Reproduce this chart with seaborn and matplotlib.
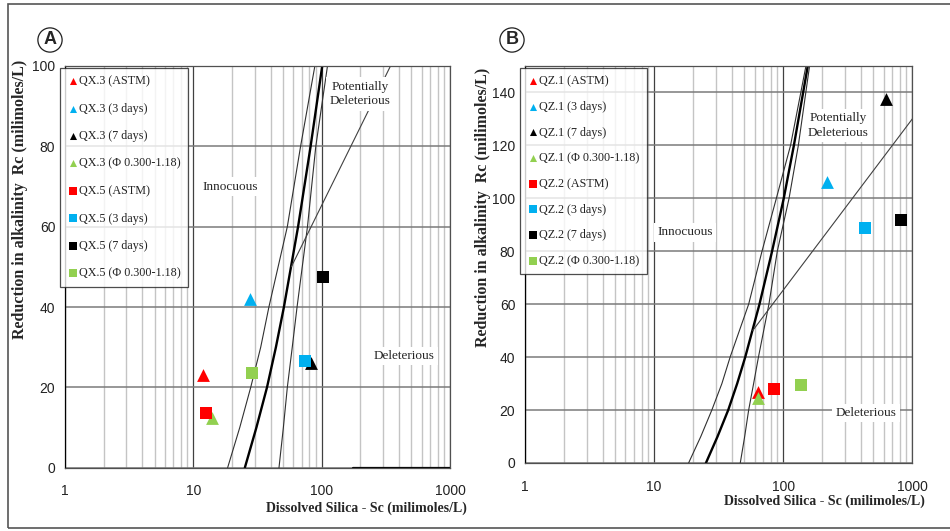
import numpy as np
import pandas as pd
import matplotlib
matplotlib.use("Agg")
import matplotlib.pyplot as plt
from matplotlib.ticker import LogLocator, FixedLocator, NullFormatter, FixedFormatter
from matplotlib.patches import Rectangle
import seaborn as sns

# series names and colours (ASTM, 3 days, 7 days, sieve fraction)
tests = ["(ASTM)", "(3 days)", "(7 days)", "(\u03a6 0.300-1.18)"]
colors = ["#FF0000", "#00B0F0", "#000000", "#92D050"]

# panel A: QX.3 (triangles) and QX.5 (squares)
qx3_sc = [11.8, 27.7, 82, 14.1]
qx3_rc = [23, 42, 26, 12.3]
qx5_sc = [12.6, 74.6, 102, 28.8]
qx5_rc = [13.7, 26.6, 47.4, 23.5]

# panel B: QZ.1 (triangles) and QZ.2 (squares)
qz1_sc = [64, 220, 626, 64]
qz1_rc = [27, 106.2, 137.6, 24.6]
qz2_sc = [85, 430, 818, 137]
qz2_rc = [28, 88.8, 91.7, 29.4]

# boundary curves
curve_rc = [0, 10, 20, 30, 40, 60, 80, 100, 120, 150]
thick_sc = [25.2, 31, 37.5, 44, 50.8, 65.5, 82, 101, 121, 155]
thin_left_sc = [18.5, 23, 28, 33.5, 38.8, 54, 68.5, 88.5, 114, 150]
thin_right_sc = [46.5, 50.3, 54, 59, 64.3, 77.5, 90, 111, 131, 160]
diag_sc = [58, 1000]
diag_rc = [50, 130]
base_sc = [177, 1000]
base_rc = [0, 0]

x_ticks = [1, 10, 100, 1000]
x_labels = ["1", "10", "100", "1000"]

sns.set_style("white")
plt.rcParams["font.family"] = ["Liberation Serif", "DejaVu Serif"]

fig = plt.figure(figsize=(9.5, 5.31), dpi=100)
axA = fig.add_axes([65 / 950, 1 - 467.7 / 531, 385 / 950, 401.7 / 531])
axB = fig.add_axes([525 / 950, 1 - 463 / 531, 387.3 / 950, 397 / 531])


def draw_panel(ax, name_a, name_b, sc_a, rc_a, sc_b, rc_b, ymax, yticks, base=False):
    ax.set_xscale("log")
    ax.set_xlim(1, 1000)
    ax.set_ylim(0, ymax)

    # grid
    ax.xaxis.set_minor_locator(LogLocator(base=10, subs=np.arange(2, 10)))
    ax.xaxis.set_minor_formatter(NullFormatter())
    ax.xaxis.set_major_locator(FixedLocator(x_ticks))
    ax.xaxis.set_major_formatter(FixedFormatter(x_labels))
    ax.yaxis.set_major_locator(FixedLocator(yticks))
    ax.grid(True, which="minor", axis="x", color="#c4c4c4", lw=1.0)
    ax.grid(True, which="major", axis="x", color="#404040", lw=0.9)
    ax.grid(True, which="major", axis="y", color="#7a7a7a", lw=1.1)
    ax.set_axisbelow(True)

    # boundary curves
    sns.lineplot(x=thin_left_sc, y=curve_rc, ax=ax, color="#303030", lw=0.8,
                 sort=False, estimator=None)
    sns.lineplot(x=thick_sc, y=curve_rc, ax=ax, color="black", lw=1.7,
                 sort=False, estimator=None)
    sns.lineplot(x=thin_right_sc, y=curve_rc, ax=ax, color="#303030", lw=0.8,
                 sort=False, estimator=None)
    sns.lineplot(x=diag_sc, y=diag_rc, ax=ax, color="#404040", lw=0.8,
                 sort=False, estimator=None)
    if base:
        sns.lineplot(x=base_sc, y=base_rc, ax=ax, color="black", lw=1.6,
                     sort=False, estimator=None)

    for i, t in enumerate(tests):
        sns.scatterplot(x=[sc_a[i]], y=[rc_a[i]], ax=ax, marker="^", s=85,
                        color=colors[i], linewidth=0, label=f"{name_a} {t}", zorder=5)
    for i, t in enumerate(tests):
        sns.scatterplot(x=[sc_b[i]], y=[rc_b[i]], ax=ax, marker="s", s=85,
                        color=colors[i], linewidth=0, label=f"{name_b} {t}", zorder=5)

    for sp in ax.spines.values():
        sp.set_color("#505050")
        sp.set_linewidth(0.9)
    ax.spines["left"].set_color("black")
    ax.tick_params(axis="both", which="major", direction="out", length=4,
                   width=0.9, color="#303030", labelsize=10, pad=3)
    ax.tick_params(axis="x", which="minor", length=0)
    ax.tick_params(axis="x", pad=8)
    for lab in ax.get_xticklabels() + ax.get_yticklabels():
        lab.set_fontfamily("Liberation Sans")
        lab.set_color("#222222")
    ax.set_xlabel("")
    ax.set_ylabel("")


draw_panel(axA, "QX.3", "QX.5", qx3_sc, qx3_rc, qx5_sc, qx5_rc, 100, [0, 20, 40, 60, 80, 100], base=True)
draw_panel(axB, "QZ.1", "QZ.2", qz1_sc, qz1_rc, qz2_sc, qz2_rc, 150, [0, 20, 40, 60, 80, 100, 120, 140])

# legends
for ax, top, spacing in [(axA, 0.995, 1.28), (axB, 0.995, 1.13)]:
    leg = ax.legend(loc="upper left", bbox_to_anchor=(-0.013, top), borderaxespad=0,
                    fontsize=8.7, markerscale=0.55, handletextpad=0.1, handlelength=0.9,
                    labelspacing=spacing, borderpad=0.6, frameon=True, fancybox=False)
    leg.get_frame().set_edgecolor("#202020")
    leg.get_frame().set_linewidth(0.9)
    for txt in leg.get_texts():
        txt.set_color("#222222")

# region labels
box = dict(facecolor="white", edgecolor="none", pad=2.5)
axA.text(19.3, 70, "Innocuous", ha="center", va="center", fontsize=9.5, bbox=box, zorder=3)
axA.text(200, 93, "Potentially\nDeleterious", ha="center", va="center", fontsize=9.5,
         bbox=box, zorder=3, linespacing=1.3)
axA.text(438, 27.8, "Deleterious", ha="center", va="center", fontsize=9.5, bbox=box, zorder=3)
axB.text(17.4, 87.2, "Innocuous", ha="center", va="center", fontsize=9.5, bbox=box, zorder=3)
axB.text(266, 127.5, "Potentially\nDeleterious", ha="center", va="center", fontsize=9.5,
         bbox=box, zorder=3, linespacing=1.3)
axB.text(438, 18.9, "Deleterious", ha="center", va="center", fontsize=9.5, bbox=box, zorder=3)

# axis titles
xlab = "Dissolved Silica - Sc (milimoles/L)"
ylab = "Reduction in alkalinity  Rc (milimoles/L)"
fig.text(467 / 950, 1 - 508 / 531, xlab, ha="right", va="center", fontsize=10, fontweight="bold")
fig.text(925 / 950, 1 - 501 / 531, xlab, ha="right", va="center", fontsize=10, fontweight="bold")
fig.text(20 / 950, 1 - 199 / 531, ylab, ha="center", va="center", rotation=90,
         fontsize=11.5, fontweight="bold")
fig.text(483 / 950, 1 - 207 / 531, ylab, ha="center", va="center", rotation=90,
         fontsize=11.5, fontweight="bold")

# circled panel letters
for px, letter in [(50, "A"), (512, "B")]:
    fig.text(px / 950, 1 - 40 / 531, letter, ha="center", va="center", fontsize=13,
             fontweight="bold", family="Liberation Sans",
             bbox=dict(boxstyle="circle,pad=0.2", facecolor="white", edgecolor="#202020", lw=0.9))

# outer frame
fig.patches.append(Rectangle((8 / 950, 3 / 531), 960 / 950, 524 / 531, transform=fig.transFigure,
                             fill=False, edgecolor="#555555", lw=1.2))

fig.savefig("out.png", dpi=100)
